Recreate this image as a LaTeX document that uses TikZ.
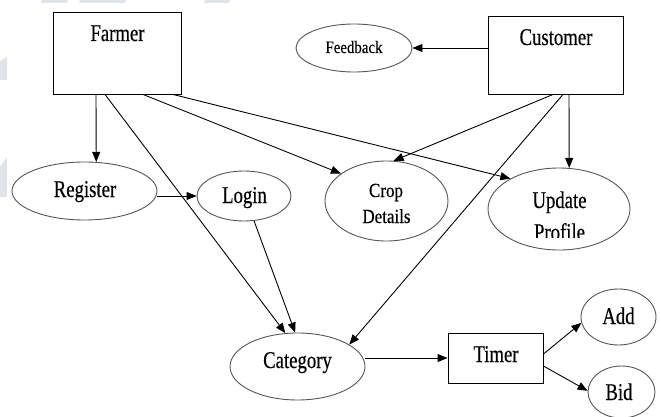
\documentclass[tikz,border=0pt]{standalone}
\usepackage{fontspec}
\setmainfont{Liberation Serif}[FakeStretch=0.78,FakeBold=0.4]
\newfontfamily\widefont{Liberation Serif}[FakeStretch=0.85,FakeBold=0.4]
\usetikzlibrary{arrows.meta,shapes.geometric}
\definecolor{edgegray}{HTML}{555555}
\definecolor{markgray}{HTML}{E0E4E9}
\begin{document}
\begin{tikzpicture}[x=1pt,y=-1pt,
  box/.style={draw=black,line width=0.9pt,rectangle,inner sep=0pt},
  oval/.style={draw=edgegray,line width=0.9pt,ellipse,inner sep=0pt},
  lbl/.style={anchor=base,inner sep=0pt,font=\fontsize{24}{28}\selectfont},
  smalllbl/.style={anchor=base,inner sep=0pt,font=\widefont\fontsize{20}{24}\selectfont},
  arr/.style={draw=black,line width=0.9pt,-{Triangle[length=10pt,width=8pt]}}]
\useasboundingbox (0,0) rectangle (661,417);

% faint background marks
\fill[markgray] (42,0) -- (68,0) -- (67,3) -- (41,3) -- cycle;
\fill[markgray] (80,0) -- (126,0) -- (125,3) -- (79,3) -- cycle;
\fill[markgray] (205,0) -- (230,0) -- (229,3) -- (204,3) -- cycle;
\fill[markgray] (0,61) -- (7,57) -- (7,80) -- (0,80) -- cycle;
\fill[markgray] (0,167) -- (7,157) -- (7,197) -- (0,197) -- cycle;

% actors
\node[box,minimum width=128pt,minimum height=82pt] (farmer) at (117,53) {};
\node[lbl] (farmerlbl) at (117.5,41) {Farmer};
\node[box,minimum width=135pt,minimum height=78pt] (cust) at (555.5,55) {};
\node[lbl] (custlbl) at (556,45) {Customer};

% use cases
\node[oval,minimum width=116pt,minimum height=48pt] (fb) at (354,48) {};
\node[smalllbl,font=\widefont\fontsize{17.5}{21}\selectfont] (fblbl) at (354,53) {Feedback};
\node[oval,minimum width=145pt,minimum height=58pt] (reg) at (84.5,191) {};
\node[lbl] (reglbl) at (85,197) {Register};
\node[oval,minimum width=94pt,minimum height=50pt] (login) at (244,196) {};
\node[lbl] (loginlbl) at (244.5,203) {Login};
\node[oval,minimum width=123pt,minimum height=80pt] (crop) at (386.5,201) {};
\node[smalllbl] (croplbl) at (386,197) {Crop};
\node[smalllbl] (detlbl) at (386.5,223) {Details};
\node[oval,minimum width=142pt,minimum height=82pt] (upd) at (559,209) {};
\node[lbl] (updlbl) at (559.5,208) {Update};
\begin{scope}
  \clip (480,150) rectangle (640,237.5);
  \node[lbl] (proflbl) at (559.5,240) {Profile};
\end{scope}
\node[oval,minimum width=135pt,minimum height=67pt] (cat) at (297.5,366.5) {};
\node[lbl] (catlbl) at (297.5,368) {Category};
\node[box,minimum width=95pt,minimum height=50pt] (timer) at (495.5,358) {};
\node[lbl] (timerlbl) at (496,362) {Timer};
\node[oval,minimum width=75pt,minimum height=56pt] (add) at (618.5,317) {};
\node[lbl] (addlbl) at (618.5,324) {Add};
\node[oval,minimum width=67pt,minimum height=52pt] (bid) at (621.5,392) {};
\node[lbl] (bidlbl) at (619,400) {Bid};

% connectors
\draw[arr] ([xshift=-21pt]farmer.south) -- (reg.68);
\draw[arr] ([xshift=-12pt]farmer.south) -- (cat.110);
\draw[arr] ([xshift=26pt]farmer.south) -- (crop.149);
\draw[arr] ([xshift=56pt]farmer.south) -- (upd.148);
\draw[arr] (reg.east |- login.west) -- (login.west);
\draw[arr] (login.-68) -- (cat.94);
\draw[arr] (cust.west |- fb.east) -- (fb.east);
\draw[arr] ([xshift=-2.5pt]cust.south) -- (crop.80);
\draw[arr] ([xshift=7.5pt]cust.south) -- (cat.23);
\draw[arr] ([xshift=13.5pt]cust.south) -- (upd.76);
\draw[arr] (cat.east |- timer.west) -- (timer.west);
\draw[arr] ([yshift=4pt]timer.east) -- (add.189);
\draw[arr] ([yshift=-8pt]timer.east) -- (bid.178);
\end{tikzpicture}
\end{document}
